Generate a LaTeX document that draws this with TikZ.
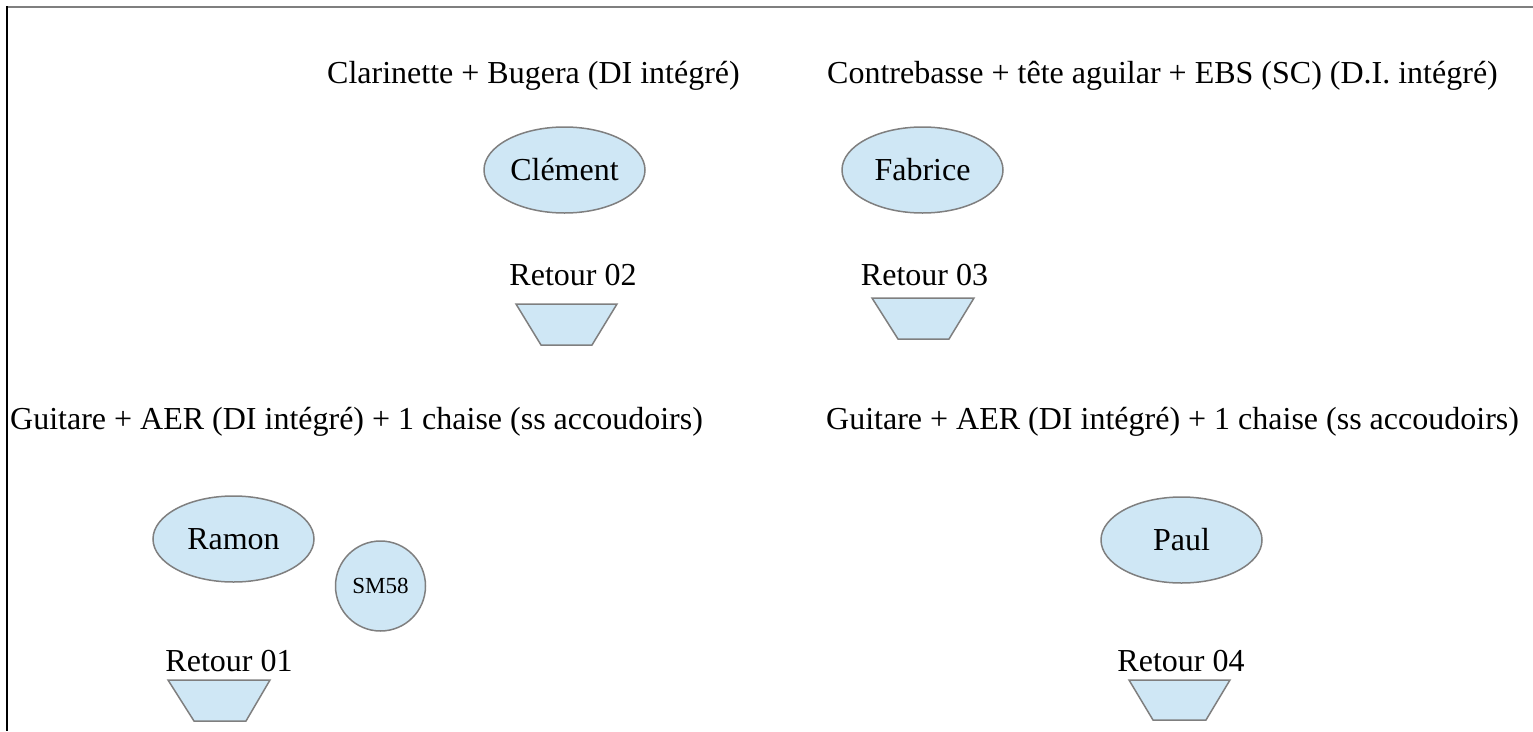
\documentclass[tikz,border=0pt]{standalone}
\usepackage{fontspec}
\setmainfont{Liberation Serif}
\usetikzlibrary{shapes.geometric}
\definecolor{fillblue}{HTML}{CFE7F5}
\definecolor{edgegray}{HTML}{7F7F7F}
\tikzset{
  txt/.style={inner sep=0pt, font=\fontsize{32}{38}\selectfont},
  person/.style={ellipse, draw=edgegray, fill=fillblue, line width=1.5pt, minimum width=161pt, minimum height=86pt, inner sep=0pt, font=\fontsize{32}{38}\selectfont},
  mic/.style={circle, draw=edgegray, fill=fillblue, line width=1.5pt, minimum size=90pt, inner sep=0pt, font=\fontsize{23}{27}\selectfont},
  wedge/.style={draw=edgegray, fill=fillblue, line width=1.5pt, line join=miter}
}
\begin{document}
\begin{tikzpicture}[x=1pt,y=-1pt]
\useasboundingbox (0,0) rectangle (1533,731);
% frame
\draw[edgegray, line width=1.5pt] (7,7) -- (1533,7);
\draw[black, line width=2pt] (7,6.25) -- (7,731);

% headings
\node[txt, anchor=base west] (h1) at (327,83) {Clarinette + Bugera (DI intégré)};
\node[txt, anchor=base west] (h2) at (827,83) {Contrebasse + tête aguilar + EBS (SC) (D.I. intégré)};
\node[txt, anchor=base west] (h3) at (10,429) {Guitare + AER (DI intégré) + 1 chaise (ss accoudoirs)};
\node[txt, anchor=base west] (h4) at (826,429) {Guitare + AER (DI intégré) + 1 chaise (ss accoudoirs)};

% musicians
\node[person] (clement) at (564.5,170) {Clément};
\node[person] (fabrice) at (922.5,170) {Fabrice};
\node[person] (ramon) at (233.5,539) {Ramon};
\node[person] (paul) at (1181.5,540) {Paul};
\node[mic] (sm58) at (380.5,586) {SM58};

% monitors labels
\node[txt, anchor=base] (r2) at (573,285) {Retour 02};
\node[txt, anchor=base] (r3) at (924.5,285) {Retour 03};
\node[txt, anchor=base] (r1) at (229,671) {Retour 01};
\node[txt, anchor=base] (r4) at (1181,671) {Retour 04};

% monitors wedges
\draw[wedge] (516,304) -- (617,304) -- (592,345) -- (541,345) -- cycle;
\draw[wedge] (872,298) -- (974,298) -- (949,339) -- (898,339) -- cycle;
\draw[wedge] (168,680) -- (270,680) -- (246,721) -- (194,721) -- cycle;
\draw[wedge] (1129,680) -- (1230,680) -- (1206,720) -- (1153,720) -- cycle;
\end{tikzpicture}
\end{document}
